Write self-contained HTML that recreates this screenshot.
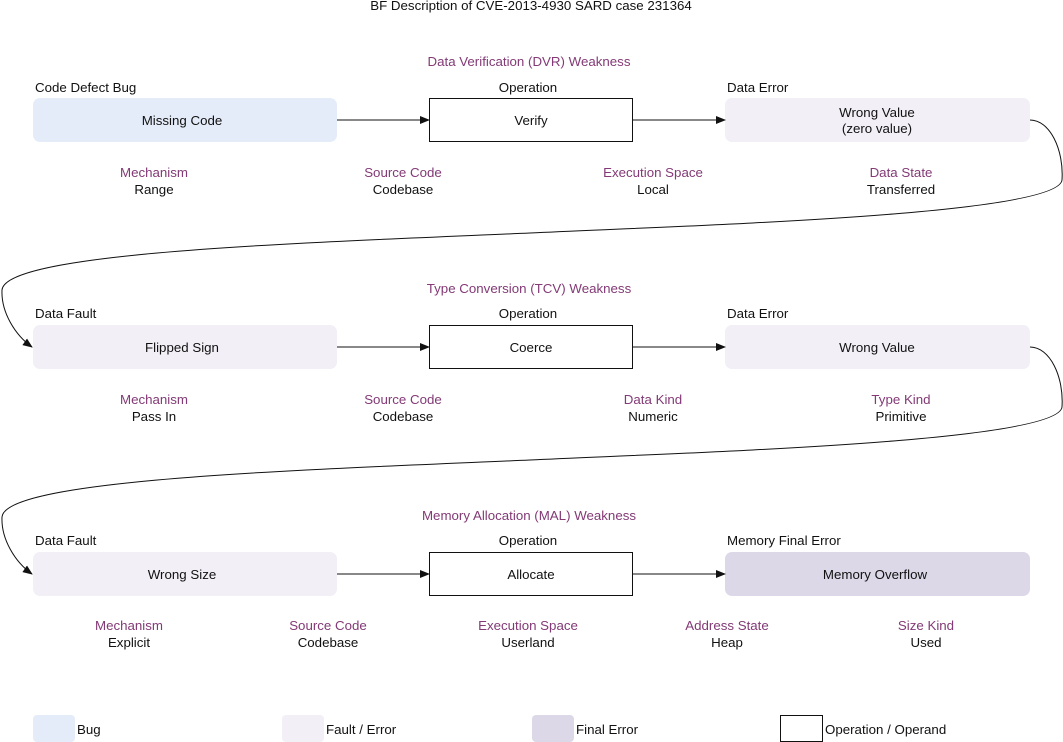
<!DOCTYPE html>
<html><head><meta charset="utf-8"><style>
html,body{margin:0;padding:0;background:#fff;}
svg{display:block;}
text{font-family:"Liberation Sans",sans-serif;font-size:13.3px;fill:#111;}
.p{fill:#833a76;}
.m{text-anchor:middle;}
</style></head><body>
<svg width="1063" height="742" viewBox="0 0 1063 742" xmlns="http://www.w3.org/2000/svg">
<defs><marker id="a" markerWidth="10" markerHeight="8" refX="9" refY="4" orient="auto" markerUnits="userSpaceOnUse"><path d="M0,0 L10,4 L0,8 z" fill="#111"/></marker></defs>
<text x="531" y="10" class="m">BF Description of CVE-2013-4930 SARD case 231364</text>

<!-- Row 1 -->
<text x="529" y="66" class="m p">Data Verification (DVR) Weakness</text>
<text x="35" y="92">Code Defect Bug</text>
<text x="528" y="92" class="m">Operation</text>
<text x="727" y="92">Data Error</text>
<rect x="33" y="98" width="304" height="44" rx="7" fill="#e5ecf9"/>
<text x="182" y="125" class="m">Missing Code</text>
<rect x="429.5" y="98.5" width="203" height="43" fill="#fff" stroke="#111"/>
<text x="531" y="125" class="m">Verify</text>
<rect x="725" y="98" width="305" height="44" rx="7" fill="#f2eff6"/>
<text x="877" y="117" class="m">Wrong Value</text>
<text x="877" y="133" class="m">(zero value)</text>
<line x1="337" y1="120" x2="429" y2="120" stroke="#111" marker-end="url(#a)"/>
<line x1="633" y1="120" x2="725" y2="120" stroke="#111" marker-end="url(#a)"/>
<text x="154" y="177" class="m p">Mechanism</text><text x="154" y="194" class="m">Range</text>
<text x="403" y="177" class="m p">Source Code</text><text x="403" y="194" class="m">Codebase</text>
<text x="653" y="177" class="m p">Execution Space</text><text x="653" y="194" class="m">Local</text>
<text x="901" y="177" class="m p">Data State</text><text x="901" y="194" class="m">Transferred</text>
<path d="M1030,120 C1050,120 1064,150 1062,180 C1058,215 700,225 530,233 C300,243 5,252 2,290 C1,312 15,335 32,347" fill="none" stroke="#111" marker-end="url(#a)"/>

<!-- Row 2 -->
<text x="529" y="293" class="m p">Type Conversion (TCV) Weakness</text>
<text x="35" y="318">Data Fault</text>
<text x="528" y="318" class="m">Operation</text>
<text x="727" y="318">Data Error</text>
<rect x="33" y="325" width="304" height="44" rx="7" fill="#f2eff6"/>
<text x="182" y="352" class="m">Flipped Sign</text>
<rect x="429.5" y="325.5" width="203" height="43" fill="#fff" stroke="#111"/>
<text x="531" y="352" class="m">Coerce</text>
<rect x="725" y="325" width="305" height="44" rx="7" fill="#f2eff6"/>
<text x="877" y="352" class="m">Wrong Value</text>
<line x1="337" y1="347" x2="429" y2="347" stroke="#111" marker-end="url(#a)"/>
<line x1="633" y1="347" x2="725" y2="347" stroke="#111" marker-end="url(#a)"/>
<text x="154" y="404" class="m p">Mechanism</text><text x="154" y="421" class="m">Pass In</text>
<text x="403" y="404" class="m p">Source Code</text><text x="403" y="421" class="m">Codebase</text>
<text x="653" y="404" class="m p">Data Kind</text><text x="653" y="421" class="m">Numeric</text>
<text x="901" y="404" class="m p">Type Kind</text><text x="901" y="421" class="m">Primitive</text>
<path d="M1030,347 C1050,347 1064,377 1062,407 C1058,442 700,452 530,460 C300,470 5,479 2,517 C1,539 15,562 32,574" fill="none" stroke="#111" marker-end="url(#a)"/>

<!-- Row 3 -->
<text x="529" y="520" class="m p">Memory Allocation (MAL) Weakness</text>
<text x="35" y="545">Data Fault</text>
<text x="528" y="545" class="m">Operation</text>
<text x="727" y="545">Memory Final Error</text>
<rect x="33" y="552" width="304" height="44" rx="7" fill="#f2eff6"/>
<text x="182" y="579" class="m">Wrong Size</text>
<rect x="429.5" y="552.5" width="203" height="43" fill="#fff" stroke="#111"/>
<text x="531" y="579" class="m">Allocate</text>
<rect x="725" y="552" width="305" height="44" rx="7" fill="#dcd8e8"/>
<text x="875" y="579" class="m">Memory Overflow</text>
<line x1="337" y1="574" x2="429" y2="574" stroke="#111" marker-end="url(#a)"/>
<line x1="633" y1="574" x2="725" y2="574" stroke="#111" marker-end="url(#a)"/>
<text x="129" y="630" class="m p">Mechanism</text><text x="129" y="647" class="m">Explicit</text>
<text x="328" y="630" class="m p">Source Code</text><text x="328" y="647" class="m">Codebase</text>
<text x="528" y="630" class="m p">Execution Space</text><text x="528" y="647" class="m">Userland</text>
<text x="727" y="630" class="m p">Address State</text><text x="727" y="647" class="m">Heap</text>
<text x="926" y="630" class="m p">Size Kind</text><text x="926" y="647" class="m">Used</text>

<!-- Legend -->
<rect x="33" y="715" width="42" height="27" rx="4" fill="#e5ecf9"/>
<text x="77" y="734">Bug</text>
<rect x="282" y="715" width="42" height="27" rx="4" fill="#f2eff6"/>
<text x="326" y="734">Fault / Error</text>
<rect x="532" y="715" width="42" height="27" rx="4" fill="#dcd8e8"/>
<text x="576" y="734">Final Error</text>
<rect x="780.5" y="715.5" width="42" height="26" fill="#fff" stroke="#111"/>
<text x="825" y="734">Operation / Operand</text>
</svg>
</body></html>
